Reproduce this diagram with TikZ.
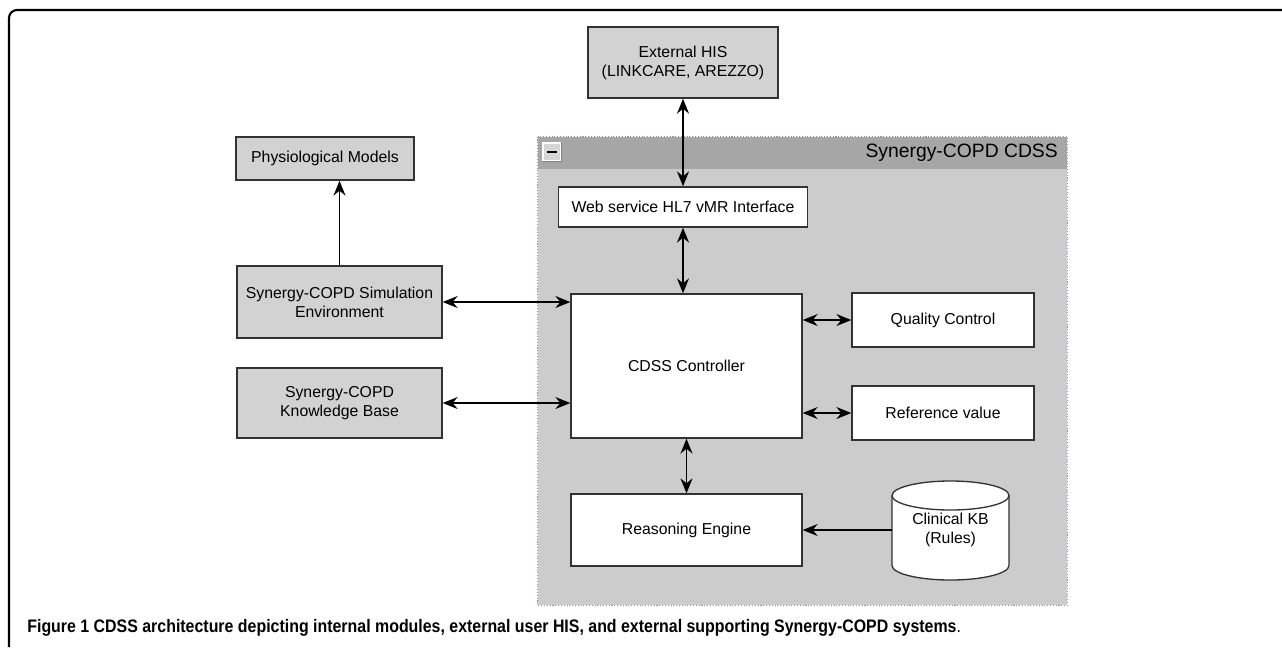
\documentclass[tikz,border=0pt]{standalone}
\usepackage{fontspec}
\setmainfont{Liberation Sans}
\usetikzlibrary{arrows.meta}

\definecolor{grpfill}{RGB}{204,204,204}
\definecolor{hdrfill}{RGB}{166,166,166}
\definecolor{extfill}{RGB}{210,210,210}
\definecolor{edge}{RGB}{50,50,50}
\definecolor{dotblue}{RGB}{140,140,190}

\def\px{0.02cm}

\tikzset{
  every node/.style={font=\fontsize{9}{10.8}\selectfont},
  box/.style={draw=edge, line width=0.75pt, fill=white, align=center, inner sep=0pt},
  extbox/.style={box, fill=extfill},
  tip/.tip={Stealth[length=3mm, width=2.4mm, inset=1mm]},
  both/.style={line width=0.8pt, tip-tip},
  single/.style={line width=0.8pt, -tip},
}

\begin{document}
\begin{tikzpicture}[x=0.02cm, y=-0.02cm]
\useasboundingbox (0,0) rectangle (1282,647);
% page frame, open to the right and below
\draw[line width=1.2pt, rounded corners=8*\px] (9,647) -- (9,10) -- (1282,10);

% CDSS container with its title bar
\node[fill=grpfill, inner sep=0pt, minimum width=529*\px, minimum height=468*\px] (cdss) at (802.5,371) {};
\fill[hdrfill] (cdss.north west) rectangle ([yshift=-32*\px]cdss.north east);
\draw[dotblue, densely dotted, line width=0.6pt] (cdss.north west) rectangle (cdss.south east);
\node[anchor=east, font=\fontsize{11}{13}\selectfont] (cdsstitle) at (1064,153) {Synergy-COPD CDSS};
\node[draw=white, line width=0.8pt, fill=grpfill!80!white, minimum size=18*\px, inner sep=0pt] (fold) at (552,152) {};
\draw[edge!60, line width=0.5pt] (fold.north east) -- (fold.south east) -- (fold.south west);
\draw[line width=1.6pt] ([xshift=-5*\px]fold.center) -- ([xshift=5*\px]fold.center);

% external systems
\node[extbox, minimum width=190*\px, minimum height=71*\px] (his) at (683,62.5) {External HIS\\(LINKCARE, AREZZO)};
\node[extbox, minimum width=178*\px, minimum height=43*\px] (phys) at (325,158.5) {Physiological Models};
\node[extbox, minimum width=205*\px, minimum height=72*\px] (sim) at (339.5,302) {Synergy-COPD Simulation\\Environment};
\node[extbox, minimum width=205*\px, minimum height=70*\px] (kbase) at (339.5,403) {Synergy-COPD\\Knowledge Base};

% internal modules
\node[box, minimum width=249*\px, minimum height=40*\px] (web) at (683,207) {Web service HL7 vMR Interface};
\node[box, minimum width=231*\px, minimum height=144*\px] (ctrl) at (686.5,366) {CDSS Controller};
\node[box, minimum width=182*\px, minimum height=54*\px] (qc) at (943,320) {Quality Control};
\node[box, minimum width=182*\px, minimum height=54*\px] (ref) at (943,413) {Reference value};
\node[box, minimum width=231*\px, minimum height=72*\px] (reason) at (686.5,530) {Reasoning Engine};

% clinical knowledge base drawn as a drum
\fill[white] (892,495.5) -- (892,565.5) arc[start angle=180, end angle=360, x radius=1.17cm, y radius=0.29cm] -- (1009,495.5) -- cycle;
\draw[edge, line width=0.75pt] (892,495.5) -- (892,565.5) arc[start angle=180, end angle=360, x radius=1.17cm, y radius=0.29cm] -- (1009,495.5);
\draw[edge, line width=0.75pt, fill=white] (950.5,495.5) ellipse[x radius=1.17cm, y radius=0.29cm];
\node[align=center, inner sep=0pt, minimum width=117*\px, minimum height=60*\px] (rules) at (950.5,530) {Clinical KB\\(Rules)};

% connectors
\draw[both] (his) -- (his |- web.north);
\draw[both] (web) -- (web |- ctrl.north);
\draw[both] (ctrl) -- (reason);
\draw[single] (sim) -- (sim |- phys.south);
\draw[both] (sim) -- (sim -| ctrl.west);
\draw[both] (kbase) -- (kbase -| ctrl.west);
\draw[both] (qc) -- (qc -| ctrl.east);
\draw[both] (ref) -- (ref -| ctrl.east);
\draw[single] (rules.west) -- (rules.west -| reason.east);

% caption
\node[anchor=west, inner sep=0pt, font=\fontsize{10.3}{12}\selectfont] (caption) at (27,628)
  {\scalebox{0.88}[1]{\bfseries Figure 1 CDSS architecture depicting internal modules, external user HIS, and external supporting Synergy-COPD systems\mdseries.}};
\end{tikzpicture}
\end{document}
